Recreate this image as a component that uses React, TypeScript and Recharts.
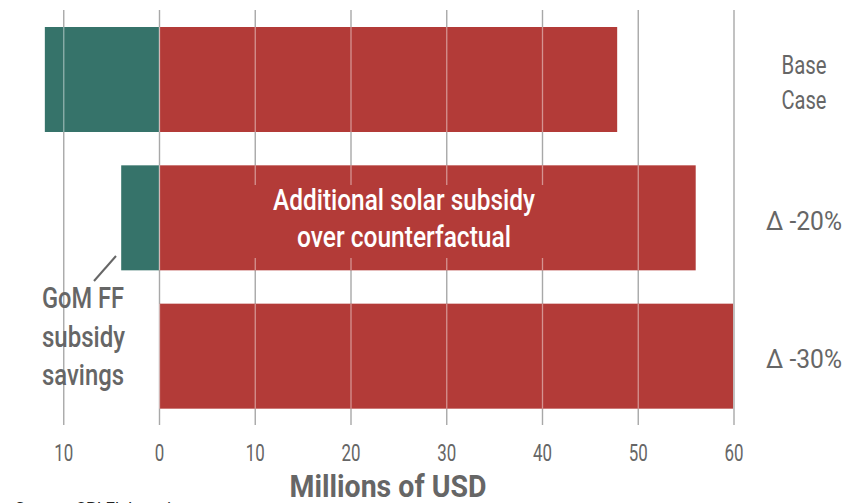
import React from 'react';
import { BarChart, Bar, XAxis, YAxis, CartesianGrid } from 'recharts';

const categories = ['Base\nCase', 'Δ -20%', 'Δ -30%'];
const ffSavings = [-12, -4, 0];
const solarSubsidy = [47.8, 56, 59.9];
const xTicks = [-10, 0, 10, 20, 30, 40, 50, 60];

const data = categories.map((name, i) => ({ name, ff: ffSavings[i], solar: solarSubsidy[i] }));

const FONT = "Roboto, 'DejaVu Sans Condensed', sans-serif";
const GREEN = '#36736a';
const RED = '#b33b38';
const GRAY = '#666666';

const makeShape = (key: 'ff' | 'solar', fill: string) => (props: any) => {
  const { x, y, width, height, payload } = props;
  const val = payload[key];
  if (!val || !width) return <g />;
  const left = Math.min(x, x + width);
  const right = Math.max(x, x + width);
  const top = Math.min(y, y + height);
  const h = Math.abs(height);
  const unit = (right - left) / Math.abs(val);
  const zero = val >= 0 ? left : right;
  const lines = xTicks
    .filter((t) => (val >= 0 ? t >= 0 && t <= val : t <= 0 && t >= val))
    .map((t) => zero + t * unit);
  return (
    <g>
      <rect x={left} y={top} width={right - left} height={h} fill={fill} />
      {lines.map((lx, i) => (
        <line key={i} x1={lx} x2={lx} y1={top} y2={top + h} stroke="#fff" strokeOpacity={0.45} strokeWidth={1.3} />
      ))}
    </g>
  );
};

const BottomTick = (props: any) => {
  const { x, y, payload } = props;
  const label = String(Math.abs(payload.value));
  return (
    <text
      x={x}
      y={y}
      dy={28}
      textAnchor="middle"
      fill={GRAY}
      fontSize={23}
      fontWeight={400}
      fontFamily={FONT}
      textLength={label.length * 9.5}
      lengthAdjust="spacingAndGlyphs"
    >
      {label}
    </text>
  );
};

const rightWidths: Record<string, number> = { Base: 45, Case: 45, 'Δ -20%': 76, 'Δ -30%': 76 };

const RightTick = (props: any) => {
  const { x, y, payload } = props;
  const lines = String(payload.value).split('\n');
  const n = lines.length;
  return (
    <g>
      {lines.map((l, i) => (
        <text
          key={i}
          x={x + 62}
          y={y + 12.5 + (i - (n - 1) / 2) * 35}
          textAnchor="middle"
          fill={GRAY}
          fontSize={26}
          fontFamily={FONT}
          textLength={rightWidths[l] || l.length * 12}
          lengthAdjust="spacingAndGlyphs"
        >
          {l}
        </text>
      ))}
    </g>
  );
};

const T = (p: any) => (
  <text
    x={p.x}
    y={p.y}
    textAnchor={p.anchor || 'start'}
    fill={p.fill || GRAY}
    fontSize={p.size}
    fontWeight={p.weight || 500}
    fontFamily={FONT}
    textLength={p.w}
    lengthAdjust="spacingAndGlyphs"
  >
    {p.children}
  </text>
);

export default function App() {
  return (
    <div style={{ position: 'absolute', left: 0, top: 0, width: 859, height: 503, background: '#fff', fontFamily: FONT, overflow: 'hidden' }}>
      <BarChart
        width={859}
        height={503}
        data={data}
        layout="vertical"
        stackOffset="sign"
        margin={{ top: 10, right: 0, left: 44.6, bottom: 0 }}
      >
        <CartesianGrid horizontal={false} vertical verticalValues={xTicks} stroke="#a8a8a8" strokeWidth={1.4} />
        <XAxis
          type="number"
          domain={[-12, 60]}
          ticks={xTicks}
          axisLine={false}
          tickLine={false}
          tickMargin={2}
          height={78}
          tick={<BottomTick />}
          allowDataOverflow
        />
        <YAxis
          type="category"
          dataKey="name"
          orientation="right"
          width={125}
          axisLine={false}
          tickLine={false}
          tick={<RightTick />}
        />
        <Bar dataKey="ff" stackId="a" fill={GREEN} barSize={105} isAnimationActive={false} shape={makeShape('ff', GREEN)} />
        <Bar dataKey="solar" stackId="a" fill={RED} barSize={105} isAnimationActive={false} shape={makeShape('solar', RED)} />
      </BarChart>
      <svg width={859} height={503} style={{ position: 'absolute', left: 0, top: 0, pointerEvents: 'none' }}>
        <rect x={250} y={185} width={310} height={73} fill={RED} />
        <T x={404} y={210} anchor="middle" fill="#fff" size={29.5} w={262}>Additional solar subsidy</T>
        <T x={404} y={247} anchor="middle" fill="#fff" size={29.5} w={214}>over counterfactual</T>
        <line x1={94} y1={281} x2={116} y2={256} stroke={GRAY} strokeWidth={2} />
        <T x={42} y={308} size={30} w={82}>GoM FF</T>
        <T x={42} y={347} size={30} w={83}>subsidy</T>
        <T x={42} y={385} size={30} w={82}>savings</T>
        <T x={388} y={497} anchor="middle" size={32} weight={700} w={197}>Millions of USD</T>
        <text x={15} y={514} fill="#222" fontSize={16} fontFamily={FONT} textLength={175} lengthAdjust="spacingAndGlyphs">
          Source: CPI Elaboration
        </text>
      </svg>
    </div>
  );
}
